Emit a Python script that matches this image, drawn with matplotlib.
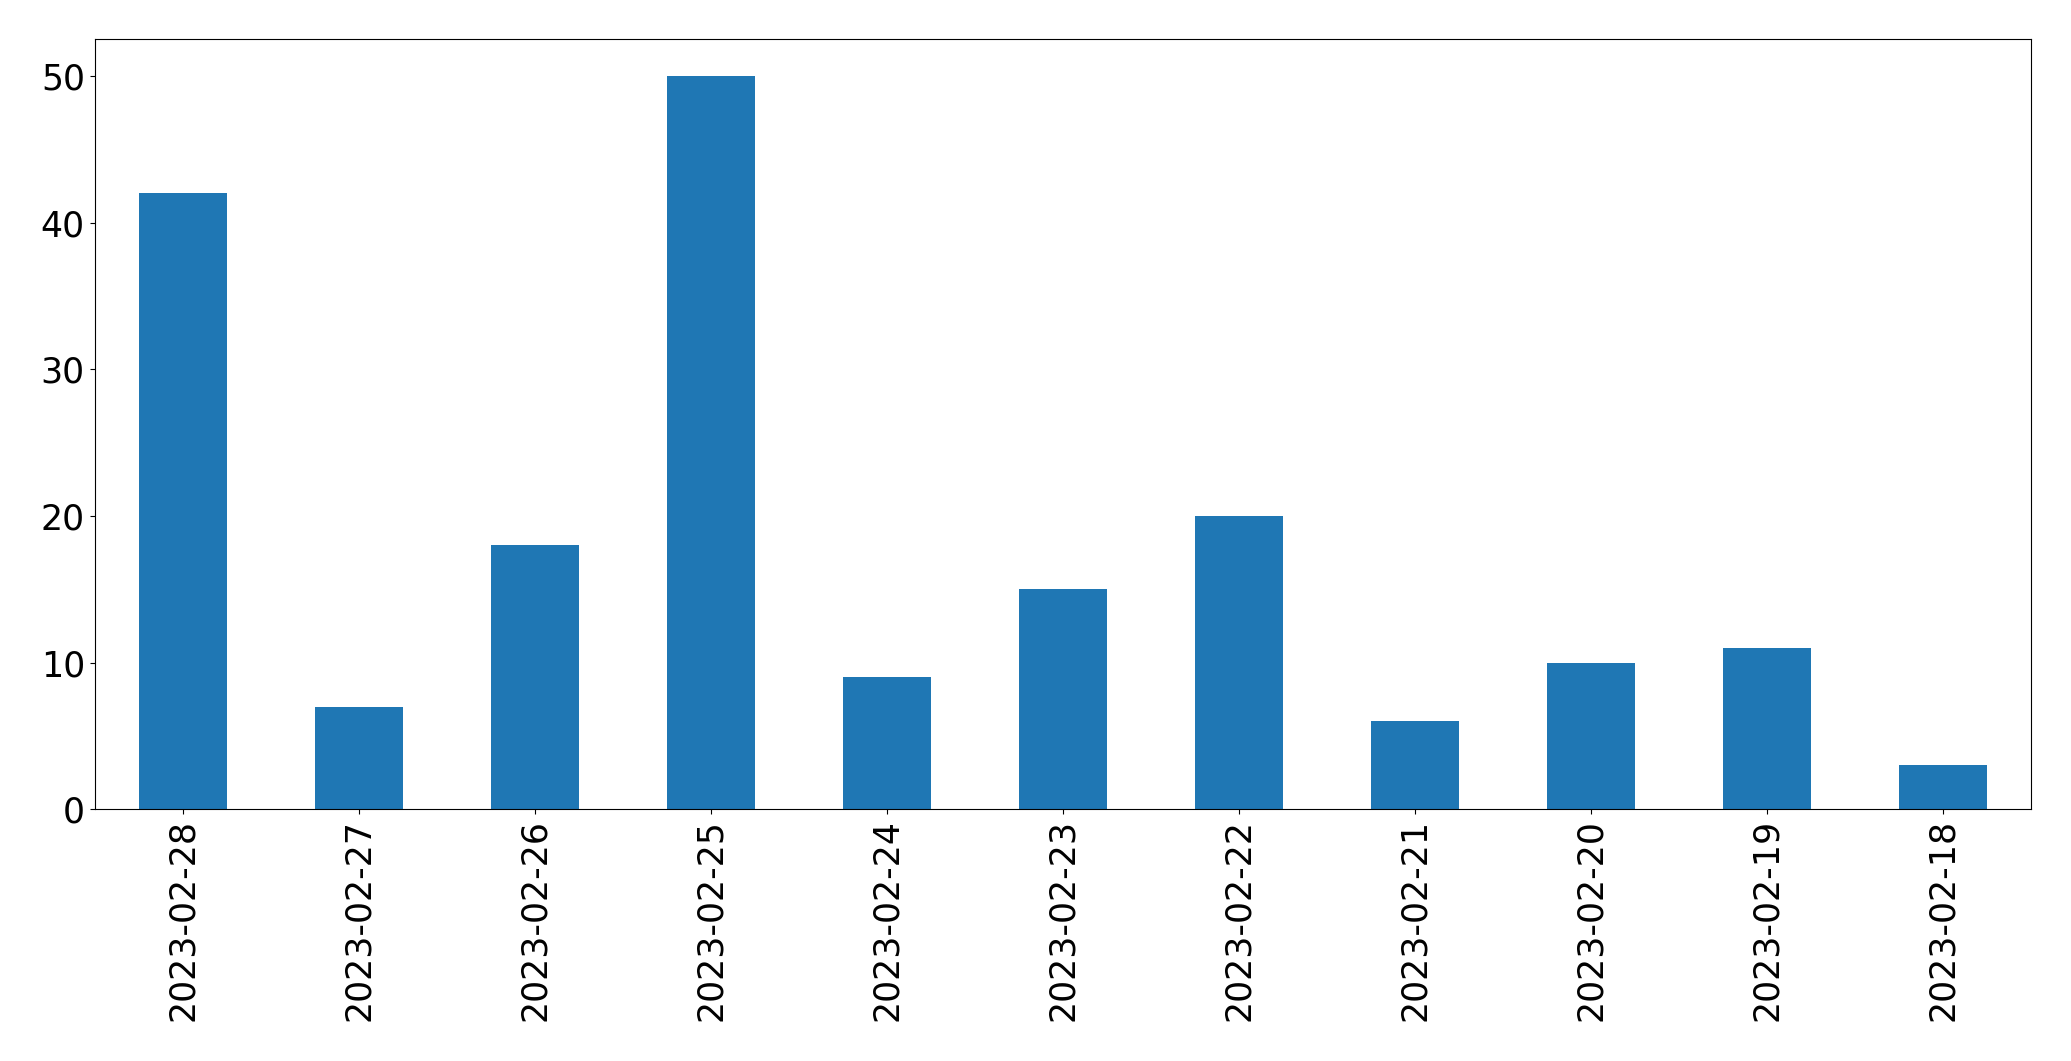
import matplotlib
matplotlib.use("Agg")
import matplotlib.pyplot as plt
import pandas as pd

# daily counts, newest first
dates = ['2023-02-28', '2023-02-27', '2023-02-26', '2023-02-25', '2023-02-24',
         '2023-02-23', '2023-02-22', '2023-02-21', '2023-02-20', '2023-02-19',
         '2023-02-18']
counts = [42, 7, 18, 50, 9, 15, 20, 6, 10, 11, 3]

series = pd.Series(counts, index=dates)

fig = plt.figure(figsize=(20.71, 10.61), dpi=100)
ax = fig.add_axes([0.0457, 0.2372, 0.9351, 0.7258])
series.plot(kind='bar', ax=ax, color='#1f77b4')
ax.tick_params(axis='both', labelsize=25)
ax.set_yticks([0, 10, 20, 30, 40, 50])

fig.savefig('out.png', dpi=100)
plt.close(fig)
